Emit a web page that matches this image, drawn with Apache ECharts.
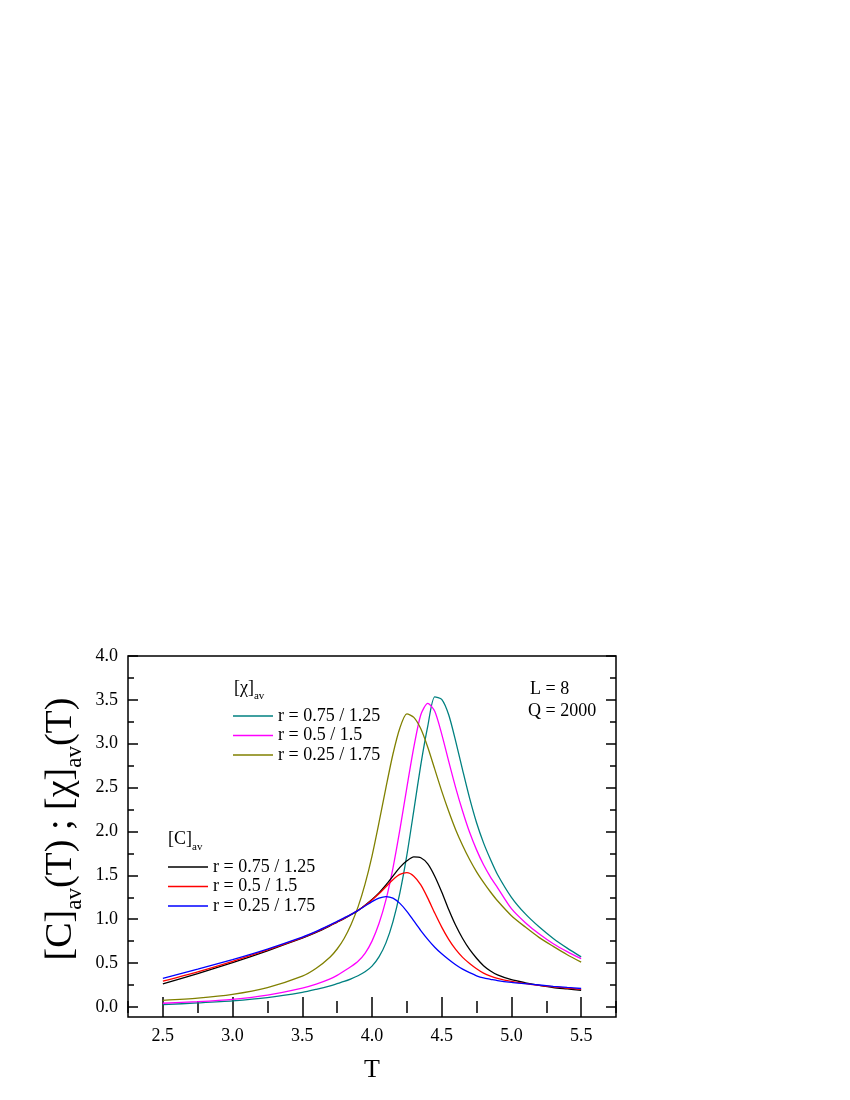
<!DOCTYPE html>
<html><head><meta charset="utf-8">
<script src="https://cdn.jsdelivr.net/npm/echarts@6/dist/echarts.min.js"></script>
<style>html,body{margin:0;padding:0;background:#fff}#c{width:850px;height:1100px}</style>
</head><body><div id="c"></div>
<script>
// ---- data ----
var T = [2.5, 2.75, 3.0, 3.25, 3.5, 3.6, 3.7, 3.75, 3.8, 3.85, 3.9, 3.95, 4.0, 4.05, 4.1, 4.15, 4.2, 4.25, 4.3, 4.35, 4.4, 4.45, 4.5, 4.55, 4.6, 4.65, 4.7, 4.75, 4.8, 4.85, 4.9, 5.0, 5.1, 5.2, 5.3, 5.4, 5.5];
var chi_075 = [0.026, 0.045, 0.068, 0.105, 0.165, 0.20, 0.24, 0.265, 0.29, 0.32, 0.355, 0.40, 0.465, 0.57, 0.73, 0.97, 1.30, 1.73, 2.24, 2.76, 3.20, 3.535, 3.505, 3.33, 3.03, 2.70, 2.38, 2.10, 1.87, 1.68, 1.51, 1.25, 1.06, 0.91, 0.78, 0.67, 0.57];
var chi_050 = [0.042, 0.06, 0.087, 0.135, 0.215, 0.26, 0.32, 0.36, 0.41, 0.46, 0.52, 0.61, 0.75, 0.95, 1.22, 1.58, 2.02, 2.50, 2.96, 3.33, 3.46, 3.37, 3.11, 2.80, 2.50, 2.23, 1.99, 1.79, 1.62, 1.48, 1.36, 1.12, 0.96, 0.83, 0.72, 0.63, 0.55];
var chi_025 = [0.075, 0.10, 0.143, 0.22, 0.35, 0.44, 0.57, 0.66, 0.78, 0.94, 1.14, 1.40, 1.72, 2.10, 2.50, 2.88, 3.18, 3.34, 3.30, 3.17, 2.96, 2.71, 2.46, 2.23, 2.02, 1.84, 1.68, 1.54, 1.42, 1.31, 1.21, 1.04, 0.91, 0.79, 0.69, 0.595, 0.51];
var C_075 = [0.264, 0.38, 0.505, 0.64, 0.785, 0.85, 0.925, 0.965, 1.005, 1.05, 1.10, 1.16, 1.225, 1.30, 1.39, 1.49, 1.59, 1.665, 1.71, 1.70, 1.63, 1.49, 1.31, 1.11, 0.93, 0.78, 0.655, 0.555, 0.47, 0.41, 0.365, 0.31, 0.275, 0.245, 0.22, 0.205, 0.19];
var C_050 = [0.294, 0.40, 0.52, 0.65, 0.79, 0.855, 0.93, 0.97, 1.01, 1.055, 1.10, 1.155, 1.22, 1.29, 1.37, 1.45, 1.51, 1.53, 1.49, 1.39, 1.24, 1.07, 0.91, 0.77, 0.655, 0.565, 0.495, 0.435, 0.385, 0.35, 0.325, 0.29, 0.265, 0.245, 0.23, 0.215, 0.20];
var C_025 = [0.325, 0.43, 0.54, 0.66, 0.795, 0.86, 0.935, 0.975, 1.015, 1.055, 1.10, 1.15, 1.20, 1.24, 1.258, 1.24, 1.18, 1.09, 0.98, 0.87, 0.77, 0.68, 0.605, 0.54, 0.48, 0.43, 0.39, 0.355, 0.33, 0.315, 0.30, 0.28, 0.265, 0.25, 0.235, 0.222, 0.21];
var legendNames = ['r = 0.75 / 1.25', 'r = 0.5 / 1.5', 'r = 0.25 / 1.75'];
var xMajor = [2.5, 3.0, 3.5, 4.0, 4.5, 5.0, 5.5];
var xMinor = [2.25, 2.75, 3.25, 3.75, 4.25, 4.75, 5.25, 5.75];
var yMajor = [0.0, 0.5, 1.0, 1.5, 2.0, 2.5, 3.0, 3.5, 4.0];
var yMinor = [0.25, 0.75, 1.25, 1.75, 2.25, 2.75, 3.25, 3.75];

// ---- chart ----
var FONT = 'Liberation Serif';
var chart = echarts.init(document.getElementById('c'), null, {renderer: 'canvas'});
function pts(arr) { return T.map(function (t, i) { return [t, arr[i]]; }); }
function ser(name, arr, color) {
  return {type: 'line', name: name, data: pts(arr), symbol: 'none', showSymbol: false,
    smooth: 0.25,
    lineStyle: {color: color, width: 1.3}, itemStyle: {color: color}, xAxisIndex: 0, yAxisIndex: 0,
    animation: false, z: 3};
}
function xAx(pos, vals, len, labels) {
  return {type: 'value', min: 2.25, max: 5.75, position: pos, gridIndex: 0,
    axisLine: {show: false}, splitLine: {show: false},
    axisTick: {show: true, inside: true, length: len, customValues: vals, lineStyle: {color: '#000', width: 1.5}},
    axisLabel: labels ? {show: true, customValues: vals, formatter: function (v) { return v.toFixed(1); },
      fontFamily: FONT, fontSize: 18, color: '#000', margin: 10} : {show: false},
    name: labels ? 'T' : '', nameLocation: 'middle', nameGap: 40,
    nameTextStyle: {fontFamily: FONT, fontSize: 26, color: '#000'}};
}
function yAx(pos, vals, len, labels) {
  return {type: 'value', min: -0.115, max: 4.0, position: pos, gridIndex: 0,
    axisLine: {show: false}, splitLine: {show: false},
    axisTick: {show: true, inside: true, length: len, customValues: vals, lineStyle: {color: '#000', width: 1.5}},
    axisLabel: labels ? {show: true, customValues: vals, formatter: function (v) { return v.toFixed(1); },
      fontFamily: FONT, fontSize: 18, color: '#000', margin: 10} : {show: false}};
}
var legText = {fontFamily: FONT, fontSize: 18, color: '#000', lineHeight: 18};
var option = {
  backgroundColor: '#fff',
  animation: false,
  grid: {left: 128, top: 656, width: 488, height: 361, show: true, borderColor: '#000', borderWidth: 1.5, backgroundColor: 'transparent'},
  xAxis: [xAx('bottom', xMajor, 10, true), xAx('bottom', xMinor, 6, false), xAx('top', xMajor, 10, false), xAx('top', xMinor, 6, false)],
  yAxis: [yAx('left', yMajor, 10, true), yAx('left', yMinor, 6, false), yAx('right', yMajor, 10, false), yAx('right', yMinor, 6, false)],
  legend: [
    {orient: 'vertical', left: 233, top: 707, padding: 0, itemWidth: 40, itemHeight: 1.5, itemGap: 1.5, icon: 'rect',
      data: legendNames, textStyle: legText, selectedMode: false},
    {orient: 'vertical', left: 168, top: 858, padding: 0, itemWidth: 40, itemHeight: 1.5, itemGap: 1.5, icon: 'rect',
      data: legendNames.map(function (n) { return n + ' '; }), textStyle: legText, selectedMode: false,
      formatter: function (n) { return n.trim(); }}
  ],
  series: [
    ser(legendNames[0], chi_075, '#008080'),
    ser(legendNames[1], chi_050, '#FF00FF'),
    ser(legendNames[2], chi_025, '#808000'),
    ser(legendNames[0] + ' ', C_075, '#000000'),
    ser(legendNames[1] + ' ', C_050, '#FF0000'),
    ser(legendNames[2] + ' ', C_025, '#0000FF')
  ],
  graphic: [
    {type: 'text', x: 234, y: 679, style: {text: '{m|[χ]}{s|av}', align: 'left', verticalAlign: 'top',
      rich: {m: {fontFamily: FONT, fontSize: 18, lineHeight: 18, verticalAlign: 'top', fill: '#000'},
             s: {fontFamily: FONT, fontSize: 11, lineHeight: 11, verticalAlign: 'top', padding: [12, 0, 0, 0], fill: '#000'}}}},
    {type: 'text', x: 168, y: 830, style: {text: '{m|[C]}{s|av}', align: 'left', verticalAlign: 'top',
      rich: {m: {fontFamily: FONT, fontSize: 18, lineHeight: 18, verticalAlign: 'top', fill: '#000'},
             s: {fontFamily: FONT, fontSize: 11, lineHeight: 11, verticalAlign: 'top', padding: [12, 0, 0, 0], fill: '#000'}}}},
    {type: 'text', x: 530, y: 680, style: {text: 'L = 8', fontFamily: FONT, fontSize: 18, fill: '#000', align: 'left', verticalAlign: 'top'}},
    {type: 'text', x: 528, y: 702, style: {text: 'Q = 2000', fontFamily: FONT, fontSize: 18, fill: '#000', align: 'left', verticalAlign: 'top'}},
    {type: 'text', x: 61, y: 829, rotation: Math.PI / 2,
      style: {text: '{m|[C]}{s|av}{m|(T) ; [χ]}{s|av}{m|(T)}', align: 'center', verticalAlign: 'middle',
        rich: {m: {fontFamily: FONT, fontSize: 38, lineHeight: 38, verticalAlign: 'top', fill: '#000'},
               s: {fontFamily: FONT, fontSize: 23, lineHeight: 23, verticalAlign: 'top', padding: [21, 0, 0, 0], fill: '#000'}}}}
  ]
};
chart.setOption(option);
</script></body></html>
